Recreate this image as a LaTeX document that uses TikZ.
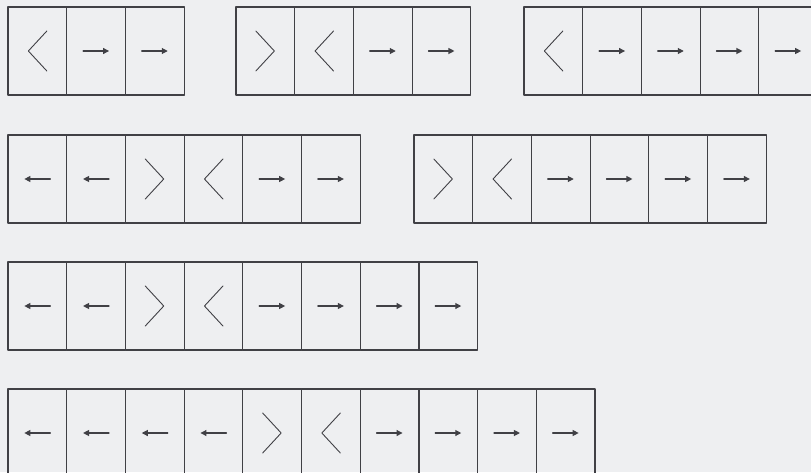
\documentclass[tikz,border=0pt]{standalone}
\usepackage{xcolor}
\usetikzlibrary{arrows.meta}
\definecolor{paper}{HTML}{EEEFF1}
\definecolor{ink}{HTML}{404045}

\tikzset{
  cell/.style={draw=ink,line width=1.2pt,minimum width=58.7pt,minimum height=88pt,inner sep=0pt,outer sep=0pt},
  chev/.style={ink,line width=0.9pt},
  flow/.style={ink,line width=1.1pt,-{Triangle[length=6pt,width=6pt]}},
  symL/.pic={\draw[chev] (9.5,-20) -- (-9,0) -- (9.5,20);},
  symR/.pic={\draw[chev] (-9.5,-20) -- (9,0) -- (-9.5,20);},
  symr/.pic={\draw[flow] (-13,0) -- (13,0);},
  syml/.pic={\draw[flow] (13,0) -- (-13,0);}
}

\begin{document}
\begin{tikzpicture}[x=1pt,y=-1pt,line cap=round,line join=round]
    \useasboundingbox (0,0) rectangle (811,472);
    \fill[paper] (0,0) rectangle (811,472);
    \clip (0,0) rectangle (811,472);
    % groups of cells: left edge / top edge / symbols / name
    \foreach \gx/\gy/\seq/\gname in {
        8/7/{L,r,r}/ra,
        236/7/{R,L,r,r}/rb,
        524/7/{L,r,r,r,r}/rc,
        8/135/{l,l,R,L,r,r}/rd,
        414/135/{R,L,r,r,r,r}/re,
        8/262/{l,l,R,L,r,r,r,r}/rf,
        8/389/{l,l,l,l,R,L,r,r,r,r}/rg}{
      \foreach \s [count=\i] in \seq {
        \node[cell] (\gname\i) at ({\gx+(\i-0.5)*58.7},{\gy+44}) {};
        \pic at (\gname\i) {sym\s};
      }
    }
  \end{tikzpicture}
\end{document}
